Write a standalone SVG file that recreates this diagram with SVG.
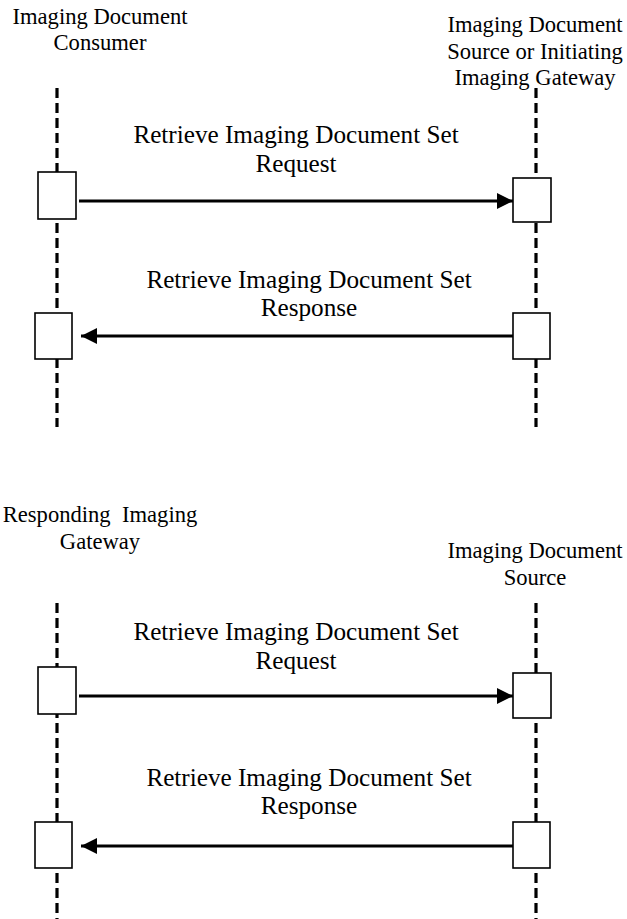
<svg xmlns="http://www.w3.org/2000/svg" width="627" height="919" viewBox="0 0 627 919">
<style>
text{font-family:"Liberation Serif","Times New Roman",serif;fill:#000;text-anchor:middle}
.hd{font-size:22.6px}
.msg{font-size:25.2px}
.life{stroke:#000;stroke-width:3.2;stroke-dasharray:10 5;fill:none}
.act{fill:#fff;stroke:#000;stroke-width:1.6}
.arr{stroke:#000;stroke-width:3.2;fill:none}
</style>
<defs>
<marker id="ah" viewBox="0 0 16 16" refX="16" refY="8" markerUnits="userSpaceOnUse" markerWidth="16" markerHeight="16" orient="auto">
<path d="M0,0 L16,8 L0,16 Z" fill="#000"/>
</marker>
</defs>
<g id="lifelines">
<line class="life" x1="57" y1="88" x2="57" y2="427"/>
<line class="life" x1="536" y1="88" x2="536" y2="427"/>
<line class="life" x1="57" y1="603" x2="57" y2="919"/>
<line class="life" x1="536" y1="603" x2="536" y2="919"/>
</g>
<g id="consumer">
<text class="hd" x="100" y="24">Imaging Document</text>
<text class="hd" x="100" y="50">Consumer</text>
<rect class="act" x="38" y="172" width="38" height="47"/>
<rect class="act" x="35" y="313" width="37" height="46"/>
</g>
<g id="source-initiating">
<text class="hd" x="535" y="32">Imaging Document</text>
<text class="hd" x="535" y="58.5">Source or Initiating</text>
<text class="hd" x="535" y="85">Imaging Gateway</text>
<rect class="act" x="513" y="178" width="38" height="44"/>
<rect class="act" x="513" y="313" width="37" height="46"/>
</g>
<g id="responding-gateway">
<text class="hd" x="100" y="522" xml:space="preserve">Responding  Imaging</text>
<text class="hd" x="100" y="549">Gateway</text>
<rect class="act" x="38" y="667" width="38" height="47"/>
<rect class="act" x="35" y="822" width="37" height="46"/>
</g>
<g id="source">
<text class="hd" x="535" y="558">Imaging Document</text>
<text class="hd" x="535" y="585">Source</text>
<rect class="act" x="513" y="673" width="38" height="45"/>
<rect class="act" x="513" y="822" width="37" height="46"/>
</g>
<g id="connectors">
<line class="arr" x1="79" y1="201" x2="513" y2="201" marker-end="url(#ah)"/>
<text class="msg" x="296" y="143">Retrieve Imaging Document Set</text>
<text class="msg" x="296" y="172">Request</text>
<line class="arr" x1="513" y1="336" x2="81" y2="336" marker-end="url(#ah)"/>
<text class="msg" x="309" y="288">Retrieve Imaging Document Set</text>
<text class="msg" x="309" y="316">Response</text>
<line class="arr" x1="79" y1="696" x2="513" y2="696" marker-end="url(#ah)"/>
<text class="msg" x="296" y="640">Retrieve Imaging Document Set</text>
<text class="msg" x="296" y="669">Request</text>
<line class="arr" x1="513" y1="846" x2="81" y2="846" marker-end="url(#ah)"/>
<text class="msg" x="309" y="786">Retrieve Imaging Document Set</text>
<text class="msg" x="309" y="814">Response</text>
</g>
</svg>
